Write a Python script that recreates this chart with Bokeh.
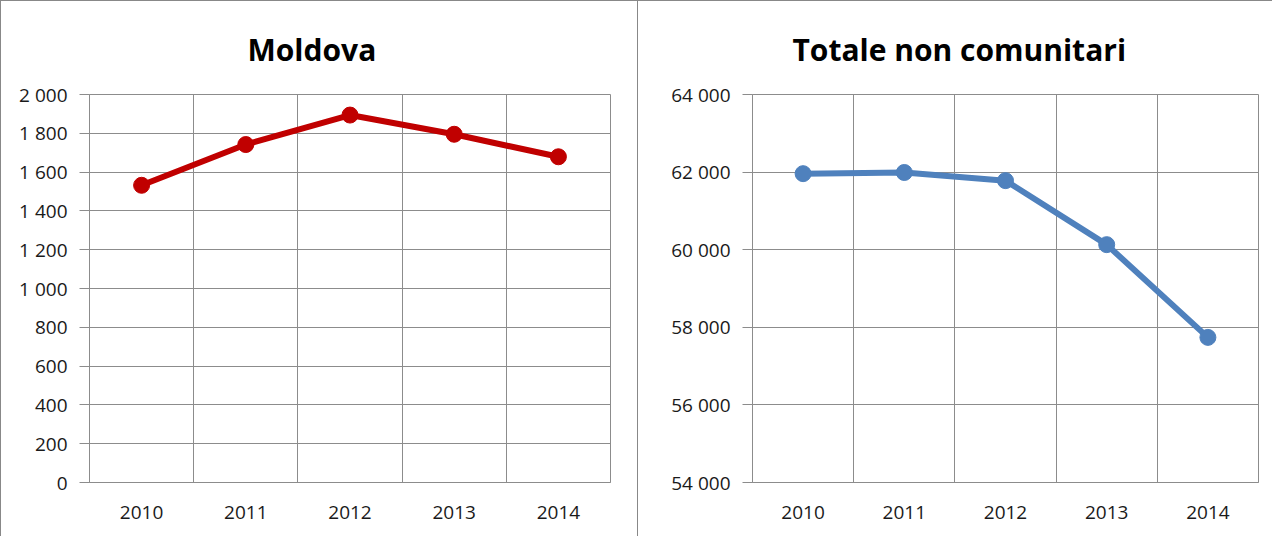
from bokeh.plotting import figure
from bokeh.layouts import row
from bokeh.models import Range1d, FixedTicker
from bokeh.embed import file_html
from bokeh.resources import INLINE

years = [2010, 2011, 2012, 2013, 2014]
moldova = [1532, 1742, 1894, 1795, 1679]
totale = [61960, 61990, 61780, 60130, 57740]
moldova_ticks = list(range(0, 2001, 200))
totale_ticks = list(range(54000, 64001, 2000))

FONT = "Open Sans"
GRID = "#8c8c8c"


def fmt(v):
    return f"{v:,}".replace(",", " ")


def make(title, ys, ticks, color, width, left, right, offset):
    p = figure(width=width, height=536, output_backend="svg", toolbar_location=None,
               x_range=Range1d(2009.5, 2014.5), y_range=Range1d(ticks[0], ticks[-1]),
               min_border_left=left, min_border_right=right, min_border_top=93,
               min_border_bottom=55, title=title)
    p.title.text_font = FONT
    p.title.text_font_size = "30px"
    p.title.text_font_style = "bold"
    p.title.text_color = "black"
    p.title.align = "left"
    p.title.vertical_align = "top"
    p.title.offset = offset
    p.title.standoff = 45
    p.outline_line_color = GRID
    p.background_fill_color = "white"
    p.border_fill_color = "white"

    p.xaxis.ticker = FixedTicker(ticks=years)
    p.xaxis.major_label_overrides = {y: str(y) for y in years}
    p.yaxis.ticker = FixedTicker(ticks=ticks)
    p.yaxis.major_label_overrides = {t: fmt(t) for t in ticks}
    for ax in (p.xaxis[0], p.yaxis[0]):
        ax.axis_line_color = GRID
        ax.major_label_text_font = FONT
        ax.major_label_text_font_size = "19px"
        ax.major_label_text_color = "#1a1a1a"
        ax.minor_tick_line_color = None
    p.xaxis.major_tick_line_color = None
    p.xaxis.major_label_standoff = 17
    p.yaxis.major_tick_line_color = GRID
    p.yaxis.major_tick_in = 0
    p.yaxis.major_tick_out = 10
    p.yaxis.major_label_standoff = 12

    p.xgrid.ticker = FixedTicker(ticks=[2009.5 + i for i in range(6)])
    p.xgrid.grid_line_color = GRID
    p.ygrid.grid_line_color = GRID

    p.line(years, ys, line_color=color, line_width=6)
    p.scatter(years, ys, size=16, fill_color=color, line_color=color)
    return p


p1 = make("Moldova", moldova, moldova_ticks, "#C00000", 638, 88, 29, 158)
p1.styles = {"border-left": "1px solid #888888", "border-top": "1px solid #888888",
             "border-right": "1px solid #888888"}
p2 = make("Totale non comunitari", totale, totale_ticks, "#4F81BD", 634, 114, 14, 40)
p2.styles = {"border-top": "1px solid #888888"}

layout = row(p1, p2)
open("out.html", "w").write(file_html(layout, INLINE))
